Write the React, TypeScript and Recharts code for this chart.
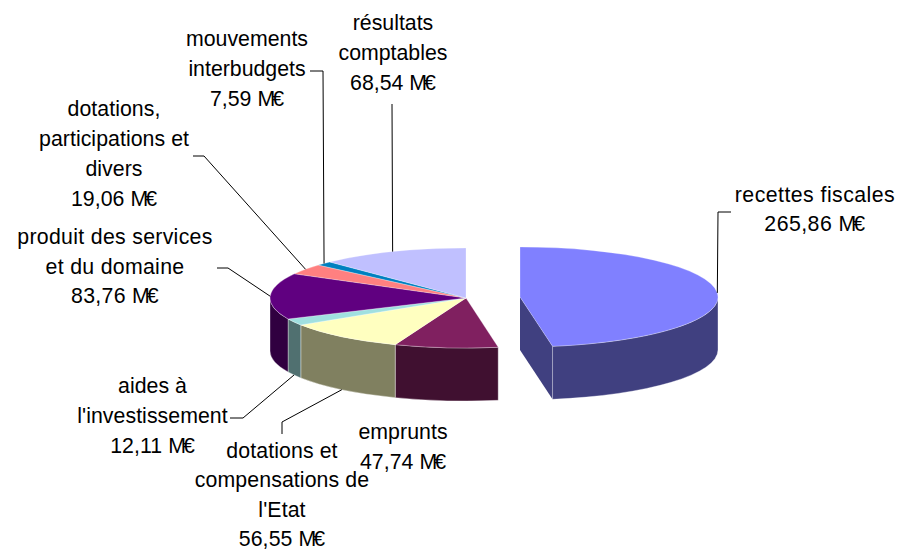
// App.tsx
import { PieChart, Pie } from 'recharts';

// values in M€, clockwise from the top
const categories = [
  'recettes fiscales',
  'emprunts',
  "dotations et compensations de l'Etat",
  "aides à l'investissement",
  'produit des services et du domaine',
  'dotations, participations et divers',
  'mouvements interbudgets',
  'résultats comptables',
];
const values = [265.86, 47.74, 56.55, 12.11, 83.76, 19.06, 7.59, 68.54];
const topColors = ['#8080ff', '#802060', '#ffffc0', '#a0e0e0', '#600080', '#ff8080', '#0080c0', '#c0c0ff'];
const sideColors = ['#404080', '#401030', '#808060', '#507070', '#300040', '#804040', '#004060', '#606080'];

// how each label wraps on the page
const labelLines = [
  ['recettes fiscales'],
  ['emprunts'],
  ['dotations et', 'compensations de', "l'Etat"],
  ['aides à', "l'investissement"],
  ['produit des services', 'et du domaine'],
  ['dotations,', 'participations et', 'divers'],
  ['mouvements', 'interbudgets'],
  ['résultats', 'comptables'],
];
const labelX = [815, 403, 282, 152.5, 115, 114, 247, 393];
const labelY = [202, 439, 458, 393, 244, 116, 46, 30];
const lineGap = [29, 30, 29.3, 30, 29.5, 30, 30, 30];
const labelSpacing = [0.45, 0.05, 0.1, 0.05, 0.3, 0.05, 0, 0];

// leader line elbows, the last point is computed from the slice
const leaders: number[][][] = [
  [[731, 212], [718, 212]],
  [],
  [[282, 434], [282, 422]],
  [[230, 418], [243, 418]],
  [[217, 268], [228, 268]],
  [[193, 156], [204, 156]],
  [[310, 71], [323, 71]],
  [[392, 104]],
];

const tableData = categories.map((name, i) => ({ name, value: values[i], fill: topColors[i], idx: i }));

const CX = 466;
const CY = 298;
const RX = 196;
const RX_EXPLODED = 198;
const RY = 50;
const DEPTH = 53;
const EXPLODE = 54;

const rad = (d: number) => (d * Math.PI) / 180;

// theta is clockwise from the top of the ellipse
const pt = (cx: number, cy: number, rx: number, theta: number) => [
  cx + rx * Math.sin(rad(theta)),
  cy - RY * Math.cos(rad(theta)),
];

const Slice3D = (props: any) => {
  const { startAngle, endAngle, payload, cx: pieCx, cy: pieCy } = props;
  const row = payload ?? props;
  const i = row.idx;
  const cx = pieCx + (i === 0 ? EXPLODE : 0);
  const cy = pieCy - (i === 0 ? 1 : 0);
  const rx = i === 0 ? RX_EXPLODED : RX;
  const a = 90 - startAngle;
  const b = 90 - endAngle;
  const side = sideColors[i];
  const edge = 'rgba(255,255,255,0.35)';

  // outer wall, only the front half of the ellipse shows
  const wa = Math.max(a, 90);
  const wb = Math.min(b, 270);
  const hasWall = wb > wa;
  const [x0, y0] = pt(cx, cy, rx, a);
  const [x1, y1] = pt(cx, cy, rx, b);
  const [wx0, wy0] = pt(cx, cy, rx, wa);
  const [wx1, wy1] = pt(cx, cy, rx, wb);
  const wallLarge = wb - wa > 180 ? 1 : 0;
  const topLarge = b - a > 180 ? 1 : 0;

  return (
    <g>
      {i === 0 && (
        <path d={`M${cx} ${cy}L${x1} ${y1}V${y1 + DEPTH}L${cx} ${cy + DEPTH}Z`} fill={side} />
      )}
      {hasWall && (
        <path
          d={`M${wx0} ${wy0}A${rx} ${RY} 0 ${wallLarge} 1 ${wx1} ${wy1}V${wy1 + DEPTH}A${rx} ${RY} 0 ${wallLarge} 0 ${wx0} ${wy0 + DEPTH}Z`}
          fill={side}
          stroke={edge}
          strokeWidth={1}
        />
      )}
      <path
        d={`M${cx} ${cy}L${x0} ${y0}A${rx} ${RY} 0 ${topLarge} 1 ${x1} ${y1}Z`}
        fill={row.fill}
        stroke={edge}
        strokeWidth={0.75}
      />
    </g>
  );
};

const formatValue = (v: number) => v.toFixed(2).replace('.', ',');

const SliceLabel = (props: any) => {
  const { index, midAngle, cx: pieCx, cy: pieCy } = props;
  const theta = 90 - midAngle;
  const cx = pieCx + (index === 0 ? EXPLODE : 0);
  const cy = pieCy - (index === 0 ? 1 : 0);
  const [ex, ey0] = pt(cx, cy, index === 0 ? RX_EXPLODED : RX, theta);
  // front half leaders hang from the bottom of the wall
  const front = Math.cos(rad(theta)) < 0;
  const ey = ey0 + (front ? DEPTH : 0);
  const elbow = leaders[index];
  const lines = labelLines[index];
  const x = labelX[index];
  const y = labelY[index];
  const gap = lineGap[index];

  return (
    <g>
      {elbow.length > 0 && (
        <polyline
          points={[...elbow, [ex, ey]].map((p) => p.join(',')).join(' ')}
          fill="none"
          stroke="#000"
          strokeWidth={1}
        />
      )}
      <text
        textAnchor="middle"
        fontFamily="'Liberation Sans', Arial, sans-serif"
        fontSize={21.3}
        letterSpacing={labelSpacing[index]}
        fill="#000"
      >
        {lines.map((line, n) => (
          <tspan key={n} x={x} y={y + n * gap}>
            {line}
          </tspan>
        ))}
        <tspan x={x} y={y + lines.length * gap}>
          {formatValue(values[index])} <tspan letterSpacing={-3}>M</tspan>€
        </tspan>
      </text>
    </g>
  );
};

export default function App() {
  return (
    <div style={{ position: 'absolute', left: 0, top: 0, width: 897, height: 552, background: '#fff' }}>
      <PieChart width={897} height={552} margin={{ top: 0, right: 0, bottom: 0, left: 0 }}>
        <Pie
          data={tableData}
          dataKey="value"
          nameKey="name"
          cx={CX}
          cy={CY}
          outerRadius={RX}
          startAngle={90}
          endAngle={-270}
          stroke="none"
          shape={Slice3D}
          label={SliceLabel}
          labelLine={false}
          isAnimationActive={false}
        />
      </PieChart>
    </div>
  );
}
